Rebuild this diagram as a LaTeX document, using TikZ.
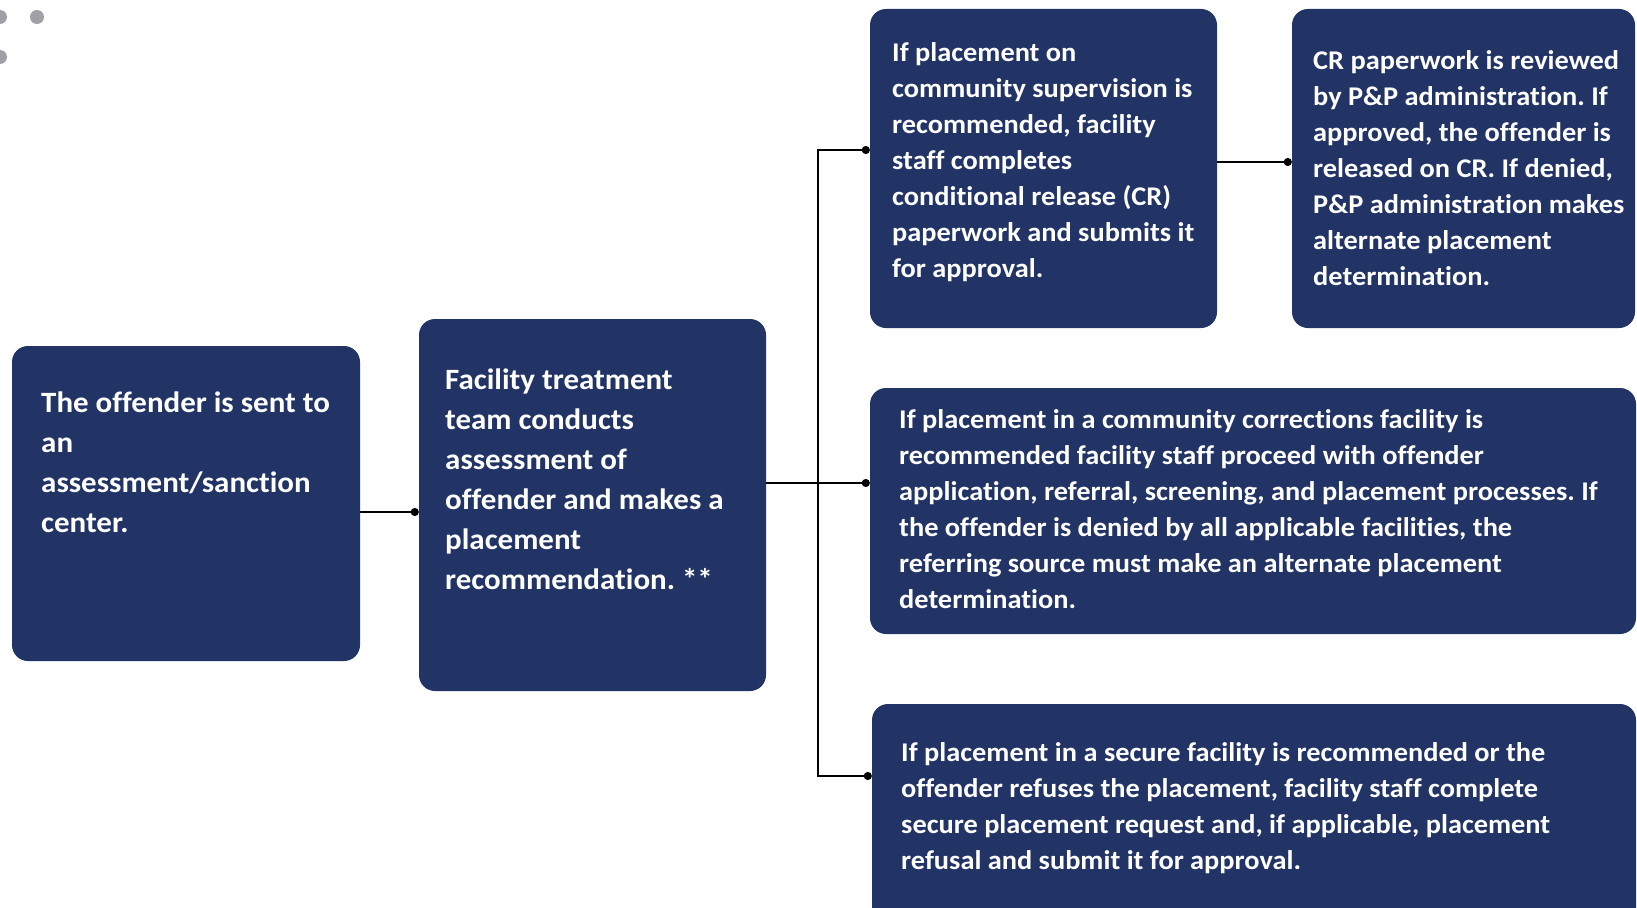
\documentclass[tikz,border=0pt]{standalone}
\usepackage{fontspec}
\setmainfont{Carlito}[FakeStretch=1.05,Ligatures=NoCommon]
\usetikzlibrary{arrows.meta}
\definecolor{navy}{RGB}{34,51,102}
\definecolor{dotgrey}{RGB}{160,160,166}
\frenchspacing
\begin{document}
\begin{tikzpicture}[x=1pt,y=-1pt,
  box/.style={fill=navy,rounded corners=16pt,draw=none},
  txt/.style={text=white,font=\bfseries\fontsize{27}{36}\selectfont,align=left,inner sep=0pt,anchor=north west},
  bigtxt/.style={txt,font=\bfseries\fontsize{29.5}{40}\selectfont},
  conn/.style={line width=2.2pt,black},
  dotend/.style={conn,-{Circle[length=8pt,width=8pt]}}]
\useasboundingbox (0,0) rectangle (1637,907);
\clip (0,0) rectangle (1637,907);
% grey dots
\fill[dotgrey] (0,17) circle (7);
\fill[dotgrey] (37,17) circle (7);
\fill[dotgrey] (0,57) circle (7);
% boxes
\path[box] (12,346) rectangle (360,661);
\node (b1) at (186,503.5) [minimum width=348pt,minimum height=315pt,inner sep=0pt] {};
\path[box] (419,319) rectangle (766,691);
\node (b2) at (592.5,505) [minimum width=347pt,minimum height=372pt,inner sep=0pt] {};
\path[box] (870,9) rectangle (1217,328);
\node (b3) at (1043.5,168.5) [minimum width=347pt,minimum height=319pt,inner sep=0pt] {};
\path[box] (1292,9) rectangle (1635,328);
\node (b4) at (1463.5,168.5) [minimum width=343pt,minimum height=319pt,inner sep=0pt] {};
\path[box] (870,388) rectangle (1636,634);
\node (b5) at (1253,511) [minimum width=766pt,minimum height=246pt,inner sep=0pt] {};
\path[box] (872,704) rectangle (1636,940);
\node (b6) at (1254,822) [minimum width=764pt,minimum height=236pt,inner sep=0pt] {};
% texts
\node[bigtxt] (t1) at (41,384) {\strut The offender is sent to\\an\\assessment/sanction\\center.};
\node[bigtxt] (t2) at (445,361) {\strut Facility treatment\\team conducts\\assessment of\\offender and makes a\\placement\\recommendation. **};
\node[txt] (t3) at (892,36) {\strut If placement on\\community supervision is\\recommended, facility\\staff completes\\conditional release (CR)\\paperwork and submits it\\for approval.};
\node[txt] (t4) at (1313,44) {\strut CR paperwork is reviewed\\by P\&P administration. If\\approved, the offender is\\released on CR. If denied,\\P\&P administration makes\\alternate placement\\determination.};
\node[txt] (t5) at (899,403) {\strut If placement in a community corrections facility is\\recommended facility staff proceed with offender\\application, referral, screening, and placement processes. If\\the offender is denied by all applicable facilities, the\\referring source must make an alternate placement\\determination.};
\node[txt] (t6) at (901,736) {\strut If placement in a secure facility is recommended or the\\offender refuses the placement, facility staff complete\\secure placement request and, if applicable, placement\\refusal and submit it for approval.};
% connectors
\coordinate (jn) at (818,483);
\coordinate (e1) at (b1.east |- 0,512);
\coordinate (e2) at (b2.west |- 0,512);
\coordinate (e3) at (b3.west |- 0,150);
\coordinate (e5) at (b5.west |- 0,483);
\coordinate (e6) at (b6.west |- 0,776);
\coordinate (s3) at (b3.east |- 0,162);
\coordinate (e4) at (b4.west |- 0,162);
\draw[dotend] (e1) -- (e2);
\draw[conn] (b2.east |- jn) -- (jn);
\draw[dotend] (jn) |- (e3);
\draw[dotend] (jn) -- (e5);
\draw[dotend] (jn) |- (e6);
\draw[dotend] (s3) -- (e4);
\end{tikzpicture}
\end{document}
